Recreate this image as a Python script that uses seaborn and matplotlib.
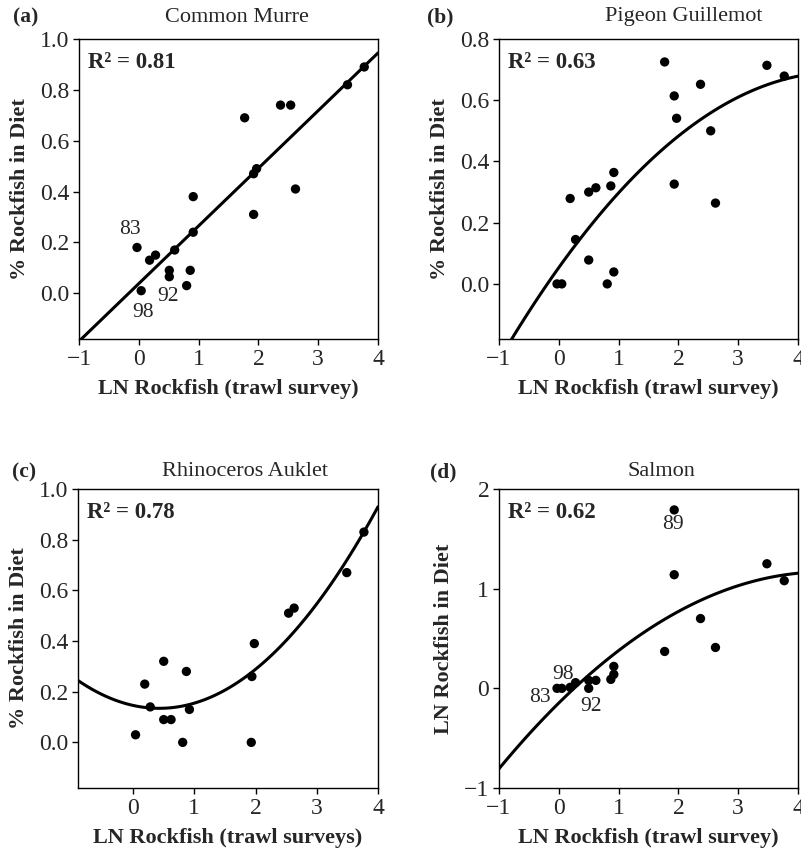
import numpy as np
import matplotlib
matplotlib.use("Agg")
import matplotlib.pyplot as plt
import seaborn as sns
import pandas as pd

# values
murre_x = [-0.03, 0.04, 0.18, 0.28, 0.51, 0.51, 0.60, 0.80, 0.86, 0.91, 0.91,
           1.77, 1.92, 1.92, 1.97, 2.37, 2.54, 2.62, 3.49, 3.77]
murre_y = [0.18, 0.01, 0.13, 0.15, 0.09, 0.065, 0.17, 0.03, 0.09, 0.38, 0.24,
           0.69, 0.31, 0.47, 0.49, 0.74, 0.74, 0.41, 0.82, 0.89]

guill_x = [-0.03, 0.05, 0.19, 0.28, 0.50, 0.50, 0.62, 0.81, 0.87, 0.92, 0.92,
           1.77, 1.93, 1.93, 1.97, 2.37, 2.54, 2.62, 3.48, 3.77]
guill_y = [0.0, 0.0, 0.279, 0.145, 0.30, 0.078, 0.314, 0.0, 0.32, 0.364, 0.039,
           0.725, 0.326, 0.614, 0.541, 0.652, 0.50, 0.264, 0.714, 0.679]

auklet_x = [0.04, 0.19, 0.28, 0.50, 0.50, 0.62, 0.81, 0.87, 0.92,
            1.93, 1.94, 1.98, 2.54, 2.63, 3.49, 3.77]
auklet_y = [0.03, 0.23, 0.14, 0.32, 0.09, 0.09, 0.0, 0.28, 0.13,
            0.0, 0.26, 0.39, 0.51, 0.53, 0.67, 0.83]

salmon_x = [-0.03, 0.05, 0.19, 0.28, 0.50, 0.50, 0.62, 0.87, 0.92, 0.92,
            1.77, 1.93, 1.93, 2.37, 2.62, 3.48, 3.77]
salmon_y = [0.0, 0.0, 0.01, 0.057, 0.0, 0.08, 0.08, 0.09, 0.22, 0.14,
            0.37, 1.79, 1.14, 0.70, 0.41, 1.25, 1.08]

titles = ["Common Murre", "Pigeon Guillemot", "Rhinoceros Auklet", "Salmon"]
tags = ["(a)", "(b)", "(c)", "(d)"]
r2_text = ["R\u00b2 = 0.81", "R\u00b2 = 0.63", "R\u00b2 = 0.78", "R\u00b2 = 0.62"]
ylabels = ["% Rockfish in Diet", "% Rockfish in Diet", "% Rockfish in Diet", "LN Rockfish in Diet"]
xlabels = ["LN Rockfish (trawl survey)", "LN Rockfish (trawl survey)",
           "LN Rockfish (trawl surveys)", "LN Rockfish (trawl survey)"]
fit_order = [1, 2, 2, 2]

sns.set_theme(style="ticks")
plt.rcParams["font.family"] = ["Liberation Serif", "DejaVu Serif"]
plt.rcParams["axes.unicode_minus"] = True

fig = plt.figure(figsize=(8.01, 8.52), dpi=100)
W, H = 801, 852

def px_axes(l, t, r, b):
    return fig.add_axes([l / W, 1 - b / H, (r - l) / W, (b - t) / H])

axes = [px_axes(79, 39, 378, 339), px_axes(499, 39, 798, 339),
        px_axes(78, 489, 378, 788), px_axes(499, 489, 798, 788)]

data = [(murre_x, murre_y), (guill_x, guill_y), (auklet_x, auklet_y), (salmon_x, salmon_y)]
xlims = [(-1, 4), (-1, 4), (-0.9, 4), (-1, 4)]
ylims = [(-0.18, 1.0), (-0.18, 0.8), (-0.18, 1.0), (-1, 2)]
yticks = [np.arange(0, 1.01, 0.2), np.arange(0, 0.81, 0.2), np.arange(0, 1.01, 0.2), [-1, 0, 1, 2]]
xticks = [range(-1, 5), range(-1, 5), range(0, 5), range(-1, 5)]

for i, ax in enumerate(axes):
    xs, ys = data[i]
    df = pd.DataFrame({"x": xs, "y": ys})
    ax.set_xlim(*xlims[i])
    ax.set_ylim(*ylims[i])
    sns.regplot(data=df, x="x", y="y", ax=ax, order=fit_order[i], ci=None, truncate=False,
                scatter_kws=dict(s=45, color="black", alpha=1, edgecolor="none"),
                line_kws=dict(color="black", lw=2.2))
    ax.set_xlim(*xlims[i])
    ax.set_ylim(*ylims[i])
    ax.set_xticks(list(xticks[i]))
    ax.set_yticks(list(yticks[i]))
    if i == 3:
        ax.set_yticklabels([str(v).replace("-", "\u2212") for v in yticks[i]])
    else:
        ax.set_yticklabels(["%.1f" % v for v in yticks[i]])
    ax.tick_params(direction="out", length=4, width=1, labelsize=17, pad=3, color="black")
    for sp in ax.spines.values():
        sp.set_visible(True)
        sp.set_linewidth(1)
        sp.set_color("black")
    ax.set_xlabel(xlabels[i], fontsize=16, fontweight="bold", labelpad=7)
    ax.set_ylabel(ylabels[i], fontsize=16, fontweight="bold", labelpad=7)
    ax.text(0.03, 0.92, r2_text[i], transform=ax.transAxes, fontsize=16.5,
            fontweight="bold", va="center", ha="left")

# panel tags and titles
tag_pos = [(13, 17), (427, 17), (12, 472), (430, 472)]
title_pos = [(237, 17), (684, 17), (245, 472), (661, 472)]
for i in range(4):
    fig.text(tag_pos[i][0] / W, 1 - tag_pos[i][1] / H, tags[i], fontsize=15.5,
             fontweight="bold", ha="left", va="center")
    fig.text(title_pos[i][0] / W, 1 - title_pos[i][1] / H, titles[i], fontsize=16,
             ha="center", va="center")

# year labels
axes[0].text(-0.146, 0.249, "83", fontsize=15.5, ha="center", va="center")
axes[0].text(0.066, -0.076, "98", fontsize=15.5, ha="center", va="center")
axes[0].text(0.484, -0.014, "92", fontsize=15.5, ha="center", va="center")
axes[3].text(1.91, 1.64, "89", fontsize=15.5, ha="center", va="center")
axes[3].text(0.063, 0.134, "98", fontsize=15.5, ha="center", va="center")
axes[3].text(-0.315, -0.09, "83", fontsize=15.5, ha="center", va="center")
axes[3].text(0.537, -0.185, "92", fontsize=15.5, ha="center", va="center")

fig.savefig("out.png", dpi=100)
